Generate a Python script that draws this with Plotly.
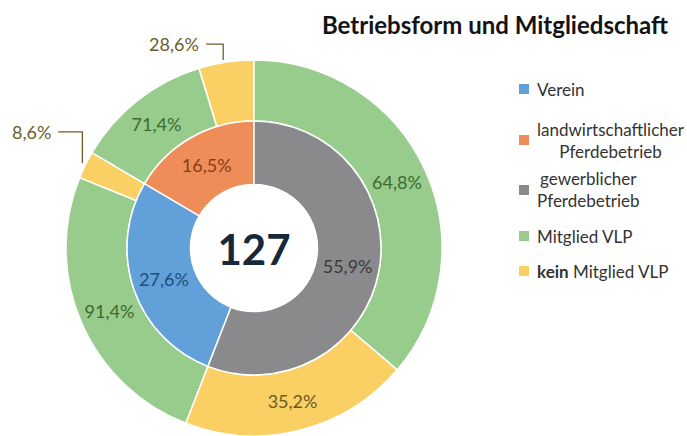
import math
import plotly.graph_objects as go

# ---------------- data ----------------
total = 127
inner_labels = ["Verein", "landwirtschaftlicher Pferdebetrieb", "gewerblicher Pferdebetrieb"]
inner_counts = [35, 21, 71]
inner_text = ["27,6%", "16,5%", "55,9%"]

outer_labels = ["Verein – Mitglied VLP", "Verein – kein Mitglied VLP",
                "landw. – Mitglied VLP", "landw. – kein Mitglied VLP",
                "gewerbl. – Mitglied VLP", "gewerbl. – kein Mitglied VLP"]
outer_counts = [32, 3, 15, 6, 46, 25]
outer_text = ["91,4%", "8,6%", "71,4%", "28,6%", "64,8%", "35,2%"]
outer_inside = [True, False, True, False, True, True]

legend_labels = ["Verein", "landwirtschaftlicher<br>Pferdebetrieb", "gewerblicher<br>Pferdebetrieb",
                 "Mitglied VLP", "<b>kein</b> Mitglied VLP"]

title_text = "Betriebsform und Mitgliedschaft"

# ---------------- styles ----------------
W, H = 687, 436
BLUE, ORANGE, GRAY = "#62A0DA", "#EE8C5A", "#8A8A8C"
GREEN, YELLOW = "#98CC8C", "#FAD064"
inner_colors = [BLUE, ORANGE, GRAY]
outer_colors = [GREEN, YELLOW, GREEN, YELLOW, GREEN, YELLOW]
inner_txtcol = ["#1F4E79", "#8A3E14", "#3A3A3A"]
outer_txtcol = ["#3C6B31", "#6B5E2A", "#3C6B31", "#6B5E2A", "#3C6B31", "#6B5B1E"]
legend_colors = [BLUE, ORANGE, GRAY, GREEN, YELLOW]
FONT = "Lato"
LBL = 18

cx, cy = 254, 248          # pixel centre of donut
r_out = 188
r_mid = 127
r_in = 63.5

rotation = sum(inner_counts[2:]) / total * 360.0  # gewerblich starts at 12 o'clock


def px_dom_x(c, r):
    return [(c - r) / W, (c + r) / W]


def px_dom_y(c, r):
    return [(H - c - r) / H, (H - c + r) / H]


fig = go.Figure()

fig.add_trace(go.Pie(
    labels=outer_labels, values=outer_counts,
    text=[t if ins else "" for t, ins in zip(outer_text, outer_inside)],
    textinfo="text", textposition="inside", insidetextorientation="horizontal",
    textfont=dict(family=FONT, size=LBL, color=outer_txtcol),
    marker=dict(colors=outer_colors, line=dict(color="white", width=1.5)),
    hole=r_mid / r_out, sort=False, direction="clockwise", rotation=rotation,
    domain=dict(x=px_dom_x(cx, r_out), y=px_dom_y(cy, r_out)),
    showlegend=False, hoverinfo="label+percent",
))

fig.add_trace(go.Pie(
    labels=inner_labels, values=inner_counts,
    text=inner_text, textinfo="text", textposition="inside", insidetextorientation="horizontal",
    textfont=dict(family=FONT, size=LBL, color=inner_txtcol),
    marker=dict(colors=inner_colors, line=dict(color="white", width=1.5)),
    hole=r_in / r_mid, sort=False, direction="clockwise", rotation=rotation,
    domain=dict(x=px_dom_x(cx, r_mid), y=px_dom_y(cy, r_mid)),
    title=dict(text="<b>" + str(total) + "</b>", position="middle center",
               font=dict(family=FONT, size=42, color="#16283A")),
    showlegend=False, hoverinfo="label+percent",
))

shapes = []
annotations = []

# outside labels with elbow leaders for small slices
cum = 0
leader_up = {1: 31, 3: 16}
leader_len = {1: 24, 3: 17}
for i, v in enumerate(outer_counts):
    if not outer_inside[i]:
        mid = rotation + (cum + v / 2) / total * 360.0
        a = math.radians(mid)
        x0 = cx + r_out * math.sin(a) - 3
        y0 = cy - r_out * math.cos(a) - 2
        y1 = y0 - leader_up[i]
        x1 = x0 - leader_len[i]
        path = "M {:.4f},{:.4f} L {:.4f},{:.4f} L {:.4f},{:.4f}".format(
            x0 / W, 1 - y0 / H, x0 / W, 1 - y1 / H, x1 / W, 1 - y1 / H)
        shapes.append(dict(type="path", path=path, xref="paper", yref="paper",
                           line=dict(color="#6B5E2A", width=1.3)))
        annotations.append(dict(text=outer_text[i], x=(x1 - 5) / W, y=1 - y1 / H,
                                xref="paper", yref="paper", xanchor="right", yanchor="middle",
                                showarrow=False,
                                font=dict(family=FONT, size=LBL, color="#6B5E2A")))
    cum += v

# manual legend
leg_y = [89, 140, 190, 236, 271]
for lab, col, yy in zip(legend_labels, legend_colors, leg_y):
    shapes.append(dict(type="rect", xref="paper", yref="paper",
                       x0=519 / W, x1=529 / W, y0=1 - (yy + 5) / H, y1=1 - (yy - 5) / H,
                       fillcolor=col, line=dict(width=0)))
    annotations.append(dict(text=lab, x=535 / W, y=1 - yy / H, xref="paper", yref="paper",
                            xanchor="left", yanchor="middle", align="center", showarrow=False,
                            font=dict(family=FONT, size=17, color="#333333")))

fig.update_layout(
    width=W, height=H,
    margin=dict(l=0, r=0, t=0, b=0),
    paper_bgcolor="white", plot_bgcolor="white",
    title=dict(text="<b>" + title_text + "</b>", x=668 / W, xanchor="right",
               y=1 - 26 / H, yanchor="middle", yref="container",
               font=dict(family=FONT, size=24, color="#141414")),
    shapes=shapes, annotations=annotations,
)

fig.write_html("out.html", config={"displayModeBar": False},
               post_script="document.body.style.margin='0';document.body.style.overflow='hidden';")
